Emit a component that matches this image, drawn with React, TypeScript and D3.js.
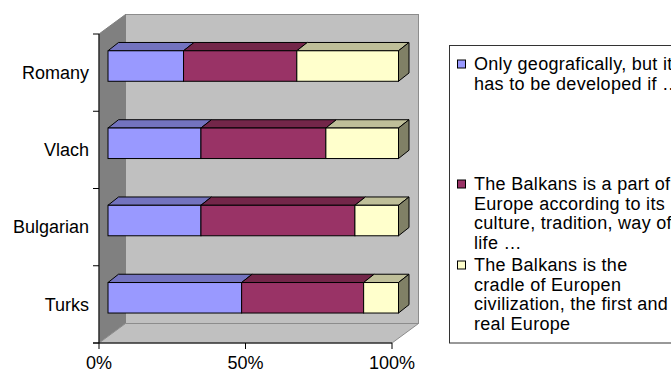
import React from "react";
import * as d3 from "d3";

const categories = ["Romany", "Vlach", "Bulgarian", "Turks"];
const seriesNames = [
  ["Only geografically, but it", "has to be developed if …"],
  ["The Balkans is a part of", "Europe according to its", "culture, tradition, way of", "life …"],
  ["The Balkans is the", "cradle of Europen", "civilization, the first and", "real Europe"],
];
const seriesOnly = [26, 32, 32, 46];
const seriesPart = [39, 43, 53, 42];
const seriesCradle = [35, 25, 15, 12];
const xTicks = [0, 50, 100];

const frontColors = ["#9999FF", "#993366", "#FFFFCC"];
const topColors = ["#7373BF", "#732649", "#BFBF99"];
const sideColors = ["#4D4D80", "#4D1A33", "#808066"];

const FONT = "'Liberation Sans', Arial, Helvetica, sans-serif";

export default function App() {
  const W = 671, H = 372;
  // front plane
  const x = d3.scaleLinear().domain([0, 100]).range([99, 392]);
  const y = d3.scaleBand<string>().domain(categories).range([34, 343]).padding(0);
  const depth = { dx: 26.5, dy: -19.5 };
  const barOff = { dx: 9, dy: -6.6 };
  const barDepth = { dx: 10.5, dy: -8.3 };
  const xb = d3.scaleLinear().domain([0, 100]).range([x(0) + barOff.dx, x(100) + 6.5]);
  const barH = 30.5;

  const series = [seriesOnly, seriesPart, seriesCradle];
  const stackData = categories.map((c, i) => {
    const row: any = { cat: c };
    series.forEach((s, k) => (row["s" + k] = s[i]));
    return row;
  });
  const stack = d3.stack().keys(["s0", "s1", "s2"]);
  const stacked = stack(stackData);

  const x0 = x(0), x1 = x(100), yT = 34, yB = 343;
  const bx0 = x0 + depth.dx, bx1 = x1 + depth.dx, byT = yT + depth.dy, byB = yB + depth.dy;

  const pts = (a: number[][]) => a.map((p) => p.join(",")).join(" ");

  const legendItems = [
    { lines: seriesNames[0], y0: 64 },
    { lines: seriesNames[1], y0: 184 },
    { lines: seriesNames[2], y0: 265 },
  ];
  const lineH = 19.5;

  return (
    <svg width={W} height={H} style={{ position: "absolute", left: 0, top: 0, background: "#fff" }} fontFamily={FONT}>
      {/* walls */}
      <rect x={bx0} y={byT} width={bx1 - bx0} height={byB - byT} fill="#C0C0C0" stroke="#8C8C8C" strokeWidth={1} />
      <polygon points={pts([[x0, yT], [bx0, byT], [bx0, byB], [x0, yB]])} fill="#808080" stroke="#808080" />
      <polygon points={pts([[x0, yB], [bx0, byB], [bx1, byB], [x1, yB]])} fill="#C0C0C0" stroke="#8C8C8C" />
      {/* axes */}
      <line x1={x0} y1={yT} x2={x0} y2={yB} stroke="#000" />
      <line x1={x0 - 6} y1={yB} x2={x1} y2={yB} stroke="#000" />
      {[...categories.map((c) => y(c)!), yB].map((v, i) => (
        <line key={"yt" + i} x1={x0 - 6} x2={x0} y1={v} y2={v} stroke="#000" />
      ))}
      {xTicks.map((t) => (
        <line key={"xt" + t} x1={x(t)} x2={x(t)} y1={yB} y2={yB + 6} stroke="#000" />
      ))}
      {/* bars */}
      {categories.map((c, i) => {
        const cy = y(c)! + y.bandwidth() / 2 + barOff.dy;
        const top = cy - barH / 2;
        const bot = cy + barH / 2;
        return (
          <g key={c}>
            {stacked.map((s, k) => {
              const a = xb(s[i][0]);
              const b = xb(s[i][1]);
              return (
                <g key={k}>
                  <polygon
                    points={pts([[a, top], [b, top], [b + barDepth.dx, top + barDepth.dy], [a + barDepth.dx, top + barDepth.dy]])}
                    fill={topColors[k]}
                    stroke="#000"
                    strokeLinejoin="round"
                  />
                  <rect x={a} y={top} width={b - a} height={barH} fill={frontColors[k]} stroke="#000" />
                  {k === stacked.length - 1 && (
                    <polygon
                      points={pts([[b, top], [b + barDepth.dx, top + barDepth.dy], [b + barDepth.dx, bot + barDepth.dy], [b, bot]])}
                      fill={sideColors[k]}
                      stroke="#000"
                      strokeLinejoin="round"
                    />
                  )}
                </g>
              );
            })}
          </g>
        );
      })}
      {/* category labels */}
      {categories.map((c) => (
        <text key={"l" + c} x={89} y={y(c)! + y.bandwidth() / 2} dy="0.35em" textAnchor="end" fontSize={18} fill="#000">
          {c}
        </text>
      ))}
      {xTicks.map((t) => (
        <text key={"xl" + t} x={x(t)} y={368.5} textAnchor="middle" fontSize={18} fill="#000">
          {t + "%"}
        </text>
      ))}
      {/* legend */}
      <rect x={449.5} y={45.5} width={260} height={297.5} fill="#fff" stroke="#333" />
      {legendItems.map((it, k) => (
        <g key={"lg" + k}>
          <rect x={457.5} y={it.y0 - 4} width={8} height={8} fill={frontColors[k]} stroke="#000" />
          {it.lines.map((ln, j) => (
            <text key={j} x={474} y={it.y0 + j * lineH} dy="0.35em" fontSize={18} letterSpacing={0.3} fill="#000">
              {ln}
            </text>
          ))}
        </g>
      ))}
    </svg>
  );
}
